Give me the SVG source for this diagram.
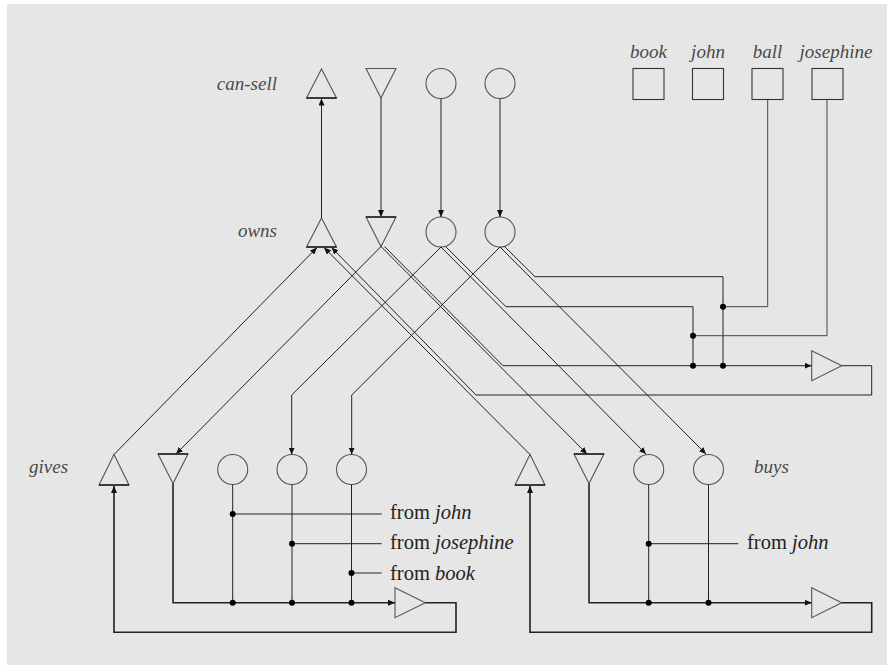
<svg xmlns="http://www.w3.org/2000/svg" width="887" height="665" viewBox="0 0 887 665">
<style>
.bg{fill:#ffffff}
.panel{fill:#e6e6e6}
.sh{fill:none;stroke:#555;stroke-width:1.1}
.base{stroke:#222;stroke-width:1.6}
.ln{fill:none;stroke:#222;stroke-width:1}
.thk{fill:none;stroke:#222;stroke-width:1.6}
.dot{fill:#000}
.lbl{font-family:"Liberation Serif",serif;font-style:italic;font-size:19px;fill:#4a4a4a}
.from{font-family:"Liberation Serif",serif;font-size:20.5px;fill:#222}
.from tspan{font-style:italic}
</style>
<defs>
<marker id="ah" markerWidth="8" markerHeight="6" refX="7" refY="3" orient="auto" markerUnits="userSpaceOnUse">
<path d="M0,0 L7,3 L0,6 z" fill="#111"/>
</marker>
</defs>
<rect class="bg" x="0" y="0" width="887" height="665"/>
<rect class="panel" x="7" y="4" width="880" height="661"/>

<g id="can-sell">
<text class="lbl" x="277" y="90" text-anchor="end">can-sell</text>
<path class="sh" d="M321.5,69 L336.5,98 L306.5,98 Z"/>
<line class="base" x1="306.5" y1="98" x2="336.5" y2="98"/>
<path class="sh" d="M366,68.5 L396,68.5 L381,98 Z"/>
<circle class="sh" cx="441" cy="83.5" r="15"/>
<circle class="sh" cx="500" cy="83.5" r="15"/>
</g>

<g id="owns">
<text class="lbl" x="277" y="237" text-anchor="end">owns</text>
<path class="sh" d="M321.5,218 L336.5,247 L306.5,247 Z"/>
<line class="base" x1="306.5" y1="247" x2="336.5" y2="247"/>
<path class="sh" d="M366,217 L396,217 L381,246.5 Z"/>
<line class="base" x1="366" y1="217" x2="396" y2="217"/>
<circle class="sh" cx="441" cy="232" r="15"/>
<circle class="sh" cx="500" cy="232" r="15"/>
</g>

<g id="entities">
<g id="book"><text class="lbl" x="648.5" y="58" text-anchor="middle">book</text><rect class="sh" x="633" y="68.5" width="31" height="31" style="stroke:#333"/></g>
<g id="john"><text class="lbl" x="708" y="58" text-anchor="middle">john</text><rect class="sh" x="692.5" y="68.5" width="31" height="31" style="stroke:#333"/></g>
<g id="ball"><text class="lbl" x="767.5" y="58" text-anchor="middle">ball</text><rect class="sh" x="752" y="68.5" width="31" height="31" style="stroke:#333"/></g>
<g id="josephine"><text class="lbl" x="836" y="58" text-anchor="middle">josephine</text><rect class="sh" x="812" y="68.5" width="31" height="31" style="stroke:#333"/></g>
</g>

<g id="owns-fact">
<path class="sh" d="M811.7,350.7 L841.7,365.7 L811.7,380.7 Z"/>
</g>

<g id="gives">
<text class="lbl" x="29" y="473">gives</text>
<path class="sh" d="M114,454.5 L129,485 L99,485 Z"/>
<line class="base" x1="99" y1="485" x2="129" y2="485"/>
<path class="sh" d="M158,454 L188,454 L173,483.5 Z"/>
<line class="base" x1="158" y1="454" x2="188" y2="454"/>
<circle class="sh" cx="232.7" cy="469.5" r="15"/>
<circle class="sh" cx="292" cy="469.5" r="15"/>
<circle class="sh" cx="351.5" cy="469.5" r="15"/>
</g>

<g id="gives-fact">
<path class="sh" d="M395,587.7 L425.3,602.7 L395,617.7 Z"/>
<text class="from" x="390" y="519">from <tspan>john</tspan></text>
<text class="from" x="390" y="549">from <tspan>josephine</tspan></text>
<text class="from" x="390" y="580">from <tspan>book</tspan></text>
</g>

<g id="buys">
<text class="lbl" x="754" y="473">buys</text>
<path class="sh" d="M530,454.5 L545,485 L515,485 Z"/>
<line class="base" x1="515" y1="485" x2="545" y2="485"/>
<path class="sh" d="M574,454 L604,454 L589,483.5 Z"/>
<line class="base" x1="574" y1="454" x2="604" y2="454"/>
<circle class="sh" cx="648.7" cy="469.5" r="15"/>
<circle class="sh" cx="708.5" cy="469.5" r="15"/>
</g>

<g id="buys-fact">
<path class="sh" d="M811.7,587.7 L841.7,602.7 L811.7,617.7 Z"/>
<text class="from" x="747" y="549">from <tspan>john</tspan></text>
</g>

<g id="connectors">
<line class="ln" x1="321.5" y1="218" x2="321.5" y2="98.5" marker-end="url(#ah)"/>
<line class="ln" x1="381" y1="98" x2="381" y2="217" marker-end="url(#ah)"/>
<line class="ln" x1="441" y1="98.5" x2="441" y2="217" marker-end="url(#ah)"/>
<line class="ln" x1="500" y1="98.5" x2="500" y2="217" marker-end="url(#ah)"/>
<line class="ln" x1="114" y1="454.5" x2="317" y2="247.5" marker-end="url(#ah)"/>
<line class="ln" x1="530" y1="454.5" x2="324" y2="247.5" marker-end="url(#ah)"/>
<polyline class="ln" points="841.7,365.7 871.7,365.7 871.7,395 476,395 331.5,247.5" marker-end="url(#ah)"/>
<line class="ln" x1="381" y1="246.5" x2="176" y2="454" marker-end="url(#ah)"/>
<line class="ln" x1="381" y1="246.5" x2="587" y2="454" marker-end="url(#ah)"/>
<polyline class="ln" points="384.5,246.5 503,365.7 811.7,365.7" marker-end="url(#ah)"/>
<polyline class="ln" points="441,247 291.7,395 291.7,454.5" marker-end="url(#ah)"/>
<line class="ln" x1="441" y1="247" x2="646" y2="454" marker-end="url(#ah)"/>
<polyline class="ln" points="445.5,246.5 506,306.7 693,306.7 693,365.7"/>
<polyline class="ln" points="500,247 351.7,395 351.7,454.5" marker-end="url(#ah)"/>
<line class="ln" x1="500" y1="247" x2="706" y2="454" marker-end="url(#ah)"/>
<polyline class="ln" points="504.5,246.5 535,276.7 723,276.7 723,365.7"/>
<polyline class="ln" points="767.7,99.5 767.7,306.7 723,306.7" style="stroke:#444"/>
<polyline class="ln" points="827,99.5 827,335.7 693,335.7" style="stroke:#444"/>
<circle class="dot" cx="723" cy="306.7" r="3"/>
<circle class="dot" cx="693" cy="335.7" r="3"/>
<circle class="dot" cx="693" cy="365.7" r="3"/>
<circle class="dot" cx="723" cy="365.7" r="3"/>
<polyline class="thk" points="173,483.5 173,602.7 395,602.7" marker-end="url(#ah)"/>
<line class="ln" x1="232.7" y1="484.5" x2="232.7" y2="602.7"/>
<line class="ln" x1="292" y1="484.5" x2="292" y2="602.7"/>
<line class="ln" x1="351.5" y1="484.5" x2="351.5" y2="602.7"/>
<line class="ln" x1="232.7" y1="514" x2="381.7" y2="514"/>
<line class="ln" x1="292" y1="543.7" x2="381.7" y2="543.7"/>
<line class="ln" x1="351.5" y1="573" x2="381.7" y2="573"/>
<circle class="dot" cx="232.7" cy="514" r="3"/>
<circle class="dot" cx="292" cy="543.7" r="3"/>
<circle class="dot" cx="351.5" cy="573" r="3"/>
<circle class="dot" cx="232.7" cy="602.7" r="3"/>
<circle class="dot" cx="292" cy="602.7" r="3"/>
<circle class="dot" cx="351.5" cy="602.7" r="3"/>
<polyline class="thk" points="425.3,602.7 456,602.7 456,632.3 114,632.3 114,486" marker-end="url(#ah)"/>
<polyline class="thk" points="589,483.5 589,602.7 811.7,602.7" marker-end="url(#ah)"/>
<line class="ln" x1="648.7" y1="484.5" x2="648.7" y2="602.7"/>
<line class="ln" x1="708.5" y1="484.5" x2="708.5" y2="602.7"/>
<line class="ln" x1="648.7" y1="543.7" x2="738.3" y2="543.7"/>
<circle class="dot" cx="648.7" cy="543.7" r="3"/>
<circle class="dot" cx="648.7" cy="602.7" r="3"/>
<circle class="dot" cx="708.5" cy="602.7" r="3"/>
<polyline class="thk" points="841.7,602.7 871.7,602.7 871.7,632.3 530,632.3 530,486" marker-end="url(#ah)"/>
</g>
</svg>
